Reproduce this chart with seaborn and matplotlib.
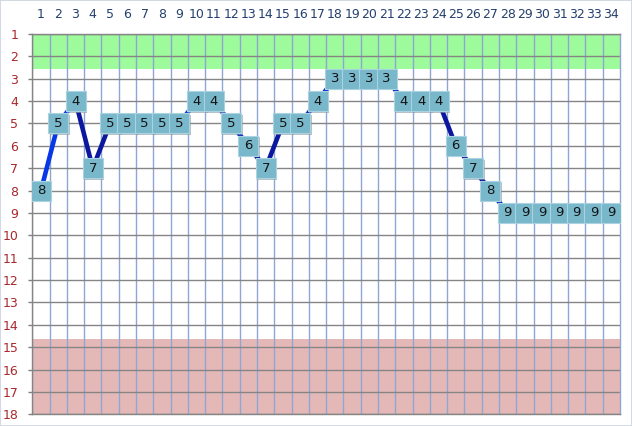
import matplotlib
matplotlib.use("Agg")
import matplotlib.pyplot as plt
import matplotlib.transforms as mtransforms
import seaborn as sns
import pandas as pd

# chart values
positions = list(range(1, 35))
ranks = [8, 5, 4, 7, 5, 5, 5, 5, 5, 4, 4, 5, 6, 7, 5, 5, 4, 3, 3, 3, 3,
         4, 4, 4, 6, 7, 8, 9, 9, 9, 9, 9, 9, 9]
rank_ticks = list(range(1, 19))

# colour of each segment between two neighbouring points
BRIGHT, MEDIUM, DARK = "#0838e6", "#0a2cc8", "#0a179e"
seg_colors = [BRIGHT, BRIGHT, DARK, DARK, MEDIUM, MEDIUM, MEDIUM, MEDIUM,
              BRIGHT, MEDIUM, MEDIUM, MEDIUM, DARK, DARK, MEDIUM, MEDIUM,
              MEDIUM, MEDIUM, MEDIUM, MEDIUM, MEDIUM, MEDIUM, MEDIUM, DARK,
              DARK, DARK, MEDIUM, MEDIUM, MEDIUM, MEDIUM, MEDIUM, MEDIUM,
              MEDIUM]

df = pd.DataFrame({"pos": positions, "rank": ranks})

sns.set_style("white")
plt.rcParams["font.family"] = ["DejaVu Sans"]

fig = plt.figure(figsize=(6.32, 4.26), dpi=100)
fig.patch.set_edgecolor("#d2d9e3")
fig.patch.set_linewidth(1.2)
ax = fig.add_axes([32.3 / 632, 11.7 / 426, 587.7 / 632, 380.3 / 426])

# zones
ax.axhspan(1, 2.55, color="#9dfb9b", zorder=0.3, lw=0)
ax.axhspan(14.62, 18, color="#e5b8b8", zorder=0.3, lw=0)

# line segments
for i in range(len(df) - 1):
    part = df.iloc[i:i + 2]
    sns.lineplot(data=part, x="pos", y="rank", ax=ax, color=seg_colors[i],
                 lw=3.3, zorder=2, solid_capstyle="butt", legend=False)

# label boxes with a little shadow
shadow = mtransforms.offset_copy(ax.transData, fig=fig, x=1.5, y=-1.5, units="dots")
ax.scatter(df["pos"], df["rank"], marker="s", s=205, color="#8a9aa2",
           alpha=0.6, lw=0, zorder=2.5, transform=shadow)
sns.scatterplot(data=df, x="pos", y="rank", ax=ax, marker="s", s=205,
                color="#79b7ca", edgecolor="#a9d3e0", linewidth=0.8,
                zorder=3, legend=False)
for p, r in zip(positions, ranks):
    ax.text(p, r, str(r), ha="center", va="center", fontsize=9.5,
            color="#141414", zorder=4)

ax.set_xlim(0.5, 34.5)
ax.set_ylim(18, 1)
ax.set_xticks(positions)
ax.set_xticks([p + 0.5 for p in range(0, 34)], minor=True)
ax.set_yticks(rank_ticks)
ax.xaxis.tick_top()
ax.tick_params(axis="x", which="major", length=0, pad=9, labelsize=9,
               labelcolor="#24406e")
ax.tick_params(axis="x", which="minor", length=0)
ax.tick_params(axis="y", length=3, width=1, color="#808080", pad=7,
               labelsize=9, labelcolor="#a8282c", left=True)
ax.grid(True, axis="x", which="minor", color="#8fa5d3", lw=1)
ax.grid(True, axis="y", which="major", color="#858585", lw=1)
ax.set_axisbelow(True)
ax.set_xlabel("")
ax.set_ylabel("")
for side in ["left", "top", "bottom"]:
    ax.spines[side].set_color("#858585")
    ax.spines[side].set_linewidth(1)
ax.spines["right"].set_color("#8fa5d3")
ax.spines["right"].set_linewidth(1)

fig.savefig("out.png", dpi=100)
